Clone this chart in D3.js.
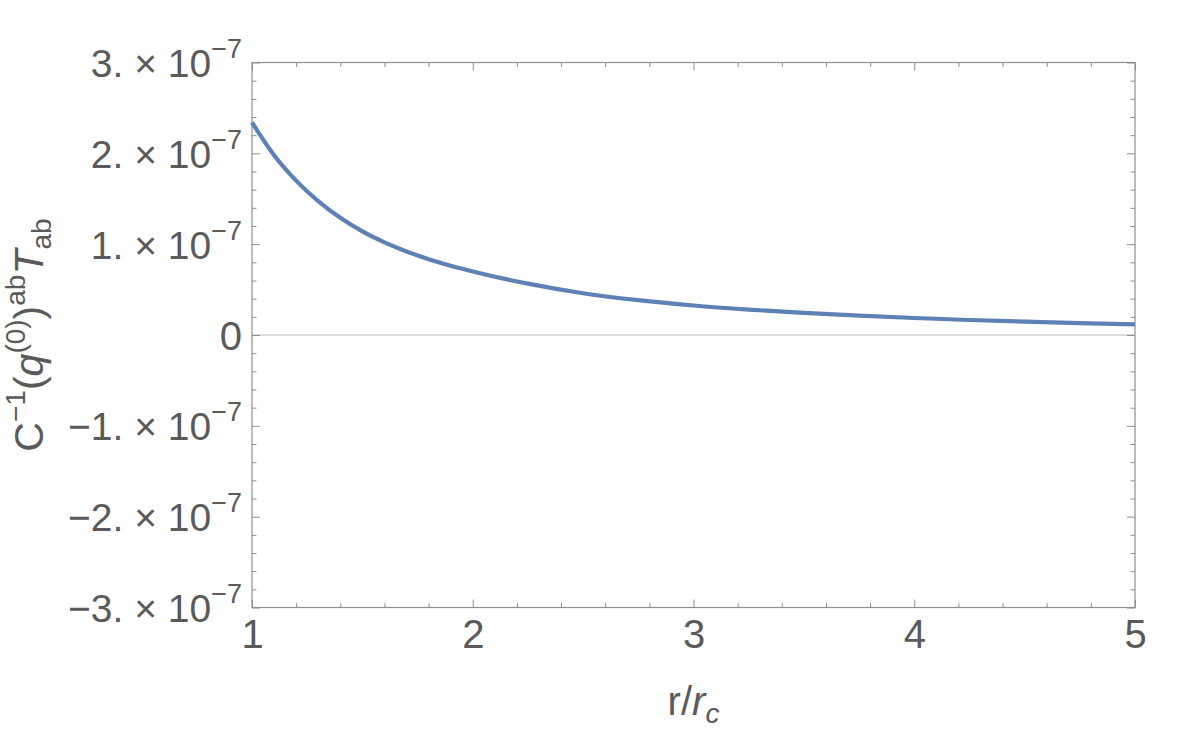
<!DOCTYPE html>
<html><head><meta charset="utf-8">
<script src="https://cdn.jsdelivr.net/npm/d3@7"></script>
<style>
html,body{margin:0;padding:0;background:#fff;}
text{font-family:"Liberation Sans",Arial,sans-serif;fill:#5a5a5a;}
</style></head>
<body>
<svg id="chart" width="1200" height="730"></svg>
<script>
// Data (value in units of 1e-7)
const rValues = [1.0, 1.1, 1.2, 1.3, 1.4, 1.5, 1.6, 1.7, 1.8, 1.9, 2.0, 2.25, 2.5, 2.75, 3.0, 3.25, 3.5, 3.75, 4.0, 4.25, 4.5, 4.75, 5.0];
const seriesValues = [2.34, 1.98, 1.70, 1.475, 1.29, 1.14, 1.02, 0.92, 0.835, 0.763, 0.70, 0.565, 0.46, 0.383, 0.325, 0.28, 0.243, 0.213, 0.187, 0.165, 0.147, 0.131, 0.118];
const xTicks = [1, 2, 3, 4, 5];
const yTicks = [-3, -2, -1, 0, 1, 2, 3];
const yExponent = -7;

const svg = d3.select("#chart");
const L = 252, R = 1135, T = 62.5, B = 607.5;
const x = d3.scaleLinear().domain([1, 5]).range([L, R]);
const y = d3.scaleLinear().domain([-3, 3]).range([B, T]);

const frameColor = "#8f8f8f";
const xMinor = d3.range(1, 5.001, 0.2).map(v => +v.toFixed(2)).filter(v => !xTicks.includes(Math.round(v*100)/100));
const yMinor = d3.range(-3, 3.001, 0.2).map(v => +v.toFixed(2)).filter(v => !yTicks.includes(v));

// zero line
svg.append("line").attr("x1", L).attr("x2", R).attr("y1", y(0)).attr("y2", y(0))
  .attr("stroke", "#b9b9b9").attr("stroke-width", 1);

function styleAxis(g) {
  g.select(".domain").remove();
  g.selectAll(".tick line").attr("stroke", frameColor).attr("stroke-width", 1);
}

// bottom axis
const gB = svg.append("g").attr("transform", `translate(0,${B})`)
  .call(d3.axisBottom(x).tickValues(xTicks).tickSize(-8).tickPadding(12).tickFormat(d => d));
styleAxis(gB);
gB.selectAll(".tick text").attr("font-size", 40).attr("fill", "#5a5a5a").attr("dy", "0.71em");
const gBm = svg.append("g").attr("transform", `translate(0,${B})`)
  .call(d3.axisBottom(x).tickValues(xMinor).tickSize(-4.5).tickFormat(""));
styleAxis(gBm);
// top axis
const gT = svg.append("g").attr("transform", `translate(0,${T})`)
  .call(d3.axisTop(x).tickValues(xTicks).tickSize(-8).tickFormat(""));
styleAxis(gT);
const gTm = svg.append("g").attr("transform", `translate(0,${T})`)
  .call(d3.axisTop(x).tickValues(xMinor).tickSize(-4.5).tickFormat(""));
styleAxis(gTm);

// left axis
const gL = svg.append("g").attr("transform", `translate(${L},0)`)
  .call(d3.axisLeft(y).tickValues(yTicks).tickSize(-8).tickPadding(10).tickFormat(d => d));
styleAxis(gL);
gL.selectAll(".tick text").each(function(d) {
  const t = d3.select(this);
  t.text(null).attr("font-size", 39).attr("fill", "#5a5a5a").attr("dy", "0.36em");
  if (d === 0) { t.text("0").attr("font-size", 40); return; }
  const base = (d < 0 ? "\u2212" : "") + Math.abs(d) + ". \u00d7 10";
  t.append("tspan").text(base);
  t.append("tspan").attr("font-size", 27).attr("dy", -19).text("\u2212" + Math.abs(yExponent));
});
const gLm = svg.append("g").attr("transform", `translate(${L},0)`)
  .call(d3.axisLeft(y).tickValues(yMinor).tickSize(-4.5).tickFormat(""));
styleAxis(gLm);
// right axis
const gR = svg.append("g").attr("transform", `translate(${R},0)`)
  .call(d3.axisRight(y).tickValues(yTicks).tickSize(-8).tickFormat(""));
styleAxis(gR);
const gRm = svg.append("g").attr("transform", `translate(${R},0)`)
  .call(d3.axisRight(y).tickValues(yMinor).tickSize(-4.5).tickFormat(""));
styleAxis(gRm);

// frame
svg.append("rect").attr("x", L).attr("y", T).attr("width", R - L).attr("height", B - T)
  .attr("fill", "none").attr("stroke", frameColor).attr("stroke-width", 1.2);

// curve
const data = rValues.map((r, i) => ({r, v: seriesValues[i]}));
svg.append("path").datum(data)
  .attr("fill", "none").attr("stroke", "#5E81B5").attr("stroke-width", 4.2)
  .attr("stroke-linejoin", "round")
  .attr("d", d3.line().x(d => x(d.r)).y(d => y(d.v)).curve(d3.curveMonotoneX));

// x axis title
const xt = svg.append("text").attr("x", (L + R) / 2).attr("y", 715)
  .attr("text-anchor", "middle").attr("font-size", 40);
xt.append("tspan").text("r/");
xt.append("tspan").attr("font-style", "italic").text("r");
xt.append("tspan").attr("font-style", "italic").attr("font-size", 28).attr("dy", 8).text("c");

// y axis title
const yt = svg.append("text").attr("transform", `translate(43,${(T + B) / 2}) rotate(-90)`)
  .attr("text-anchor", "middle").attr("font-size", 41);
yt.append("tspan").text("C");
yt.append("tspan").attr("font-size", 28).attr("dy", -18).text("\u22121");
yt.append("tspan").attr("dy", 18).text("(");
yt.append("tspan").attr("font-style", "italic").text("q");
yt.append("tspan").attr("font-size", 28).attr("dy", -18).text("(0)");
yt.append("tspan").attr("dy", 18).text(")");
yt.append("tspan").attr("font-size", 28).attr("dy", -18).text("ab");
yt.append("tspan").attr("font-style", "italic").attr("dy", 18).text("T");
yt.append("tspan").attr("font-size", 28).attr("dy", 8).text("ab");
</script>
</body></html>
